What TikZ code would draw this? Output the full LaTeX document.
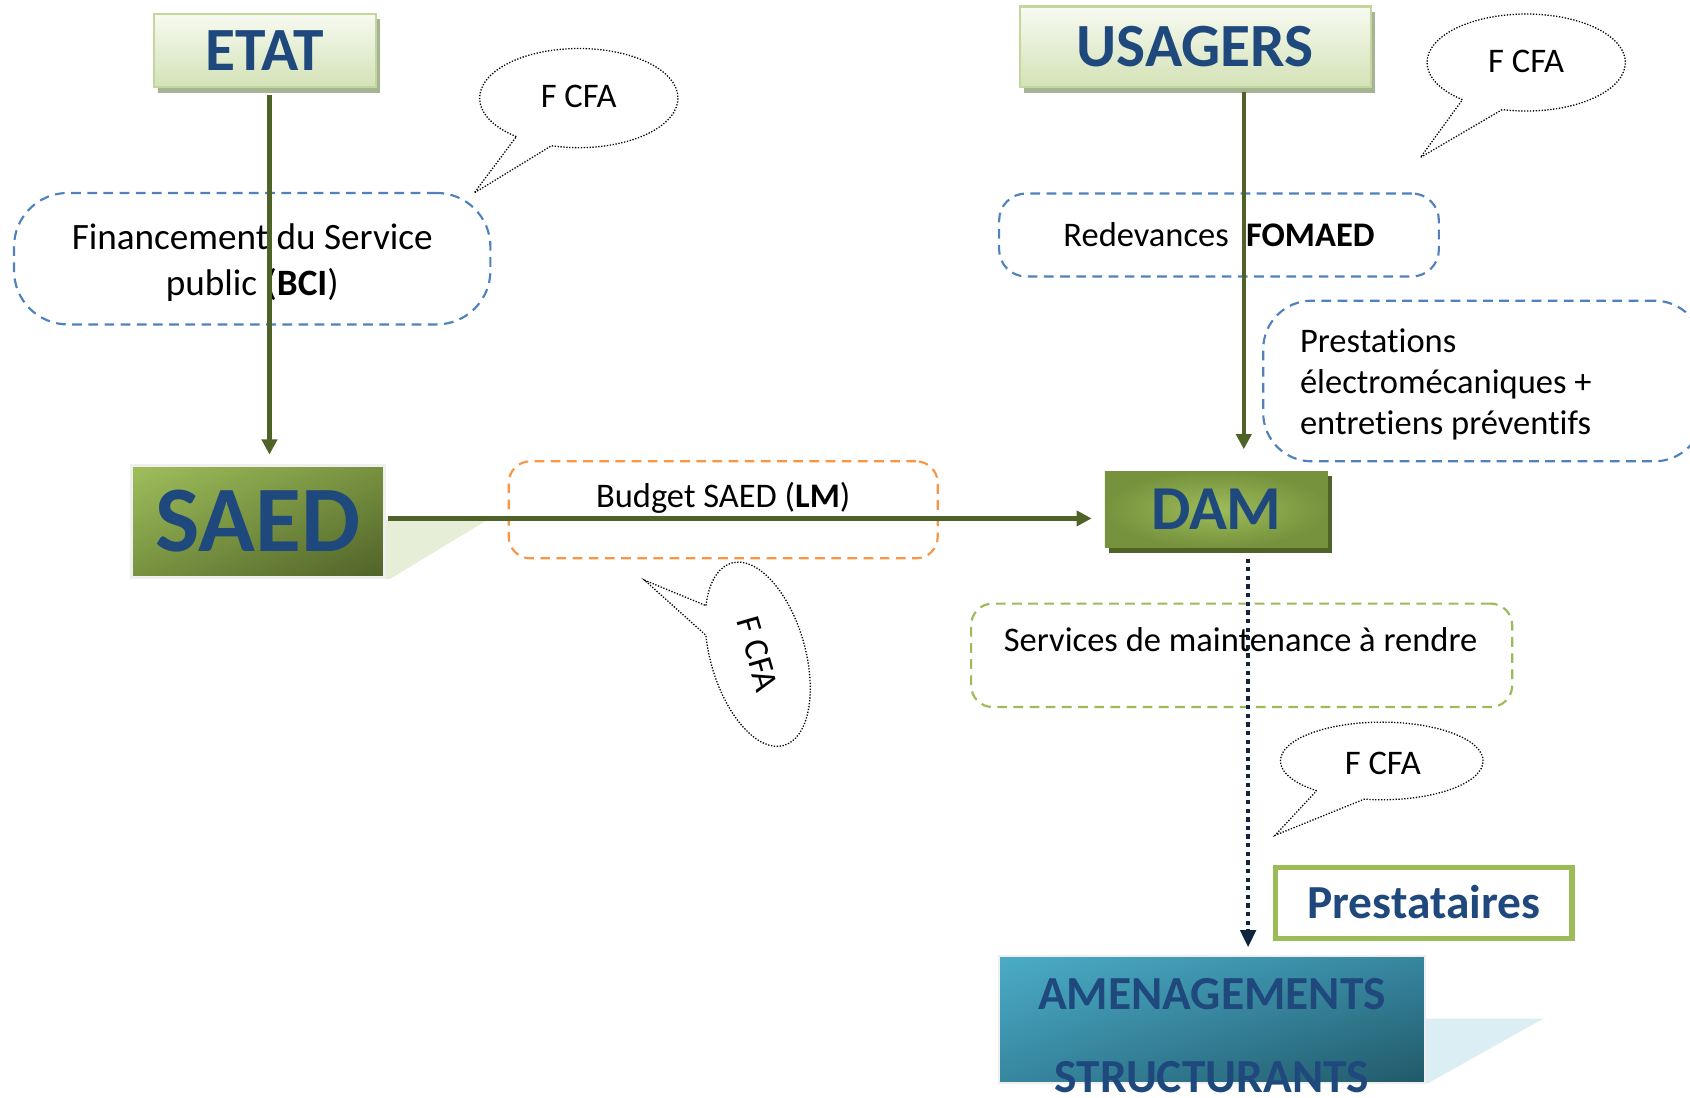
\documentclass[tikz,border=0pt]{standalone}
\usepackage{fontspec}
\setmainfont{Carlito}[Ligatures=NoCommon]
\usetikzlibrary{arrows.meta,shadows,calc,shadings}
\definecolor{tblue}{HTML}{1F497D}
\definecolor{olive}{HTML}{4F6228}
\definecolor{dblue}{HTML}{4F81BD}
\definecolor{dorange}{HTML}{F79646}
\definecolor{dgreen}{HTML}{9BBB59}
\definecolor{navy}{HTML}{0F243E}
\definecolor{etattop}{HTML}{F7FAF1}
\definecolor{etatbot}{HTML}{D3E2B6}
\definecolor{etatborder}{HTML}{C3D69B}
\definecolor{etatshadow}{HTML}{A6B394}
\definecolor{saedA}{HTML}{9FBF5C}
\definecolor{saedM}{HTML}{77913F}
\definecolor{saedB}{HTML}{4F6228}
\definecolor{damin}{HTML}{9DBC5A}
\definecolor{damout}{HTML}{76923C}
\definecolor{amenA}{HTML}{4BACC6}
\definecolor{amenM}{HTML}{3786A0}
\definecolor{amenB}{HTML}{215968}
\definecolor{lightborder}{HTML}{EFEFEF}
\definecolor{saedshadow}{HTML}{E6EED8}
\definecolor{amenshadow}{HTML}{DAEEF3}
\begin{document}
\begin{tikzpicture}[x=1pt,y=-1pt,
  bigtitle/.style={font=\bfseries\fontsize{57}{60}\selectfont, text=tblue, text height=36.7pt, text depth=0pt},
  topbox/.style={bigtitle, draw=etatborder, line width=2pt, top color=etattop, bottom color=etatbot,
     drop shadow={shadow xshift=4pt, shadow yshift=-5pt, fill=etatshadow, opacity=1}},
  dashbox/.style={dash pattern=on 9pt off 6pt, line width=2pt},
  lbl/.style={font=\fontsize{32}{38}\selectfont, text height=20.6pt, text depth=0pt, inner sep=0pt},
  callout/.style={draw=black, line width=1.2pt, dash pattern=on 1.2pt off 1.5pt, fill=white},
  arr/.style={draw=olive, line width=4pt, -{Triangle[width=14pt,length=14pt]}},
  dotarr/.style={draw=navy, line width=4pt, dash pattern=on 4pt off 4pt, -{Triangle[width=14pt,length=16pt]}}
]
\useasboundingbox (0,0) rectangle (1568,1018);

% dashed label boxes
\node[dashbox, draw=dblue, rounded corners=50pt, minimum width=442pt, minimum height=122pt] (fin) at (234,240) {};
\node[align=center, inner sep=0pt, font=\fontsize{34.5}{42}\selectfont] (fint) at (234,243.5)
      {Financement du Service\\public (\textbf{BCI})};
\node[dashbox, draw=dblue, rounded corners=25pt, minimum width=408pt, minimum height=77pt,
      font=\fontsize{32}{38}\selectfont, text height=20.6pt, text depth=0pt] (redev) at (1131,218)
      {Redevances\hspace{16pt}\textbf{FOMAED}};
\node[dashbox, draw=dblue, rounded corners=45pt, minimum width=408pt, minimum height=149pt] (prest) at (1376,353.5) {};
\node[anchor=west, align=left, inner sep=0pt, font=\fontsize{32}{38}\selectfont] (prestt) at (1206,356.5)
      {Prestations\\électromécaniques +\\entretiens préventifs};
\node[dashbox, draw=dorange, rounded corners=20pt, minimum width=398pt, minimum height=90pt] (budget) at (671,473) {};
\node[lbl] (budgett) at (671,461) {Budget SAED (\textbf{LM})};
\node[dashbox, draw=dgreen, rounded corners=20pt, minimum width=502pt, minimum height=96pt] (serv) at (1152,608) {};
\node[lbl] (servt) at (1151,594) {Services de maintenance à rendre};

% callouts
\coordinate (c1) at (537,91);
\draw[callout] (c1) ++(129:92 and 46) arc[start angle=129, end angle=466, x radius=92, y radius=46] -- (440,179) -- cycle;
\node[lbl] (cfa1) at (537,89) {F CFA};
\coordinate (c2) at (1416,58);
\draw[callout] (c2) ++(130:92 and 45) arc[start angle=130, end angle=464, x radius=92, y radius=45] -- (1318,146) -- cycle;
\node[lbl] (cfa2) at (1416,57) {F CFA};
\coordinate (c4) at (1282,706);
\draw[callout] (c4) ++(130:94 and 36) arc[start angle=130, end angle=460, x radius=94, y radius=36] -- (1183,775) -- cycle;
\node[lbl] (cfa4) at (1283,708) {F CFA};
\begin{scope}[shift={(703,607)}, rotate=-74]
  \draw[callout] (130:88 and 44) arc[start angle=130, end angle=470, x radius=88, y radius=44] -- (-95,82) -- cycle;
  \node[lbl, transform shape] (cfa3) at (0,0) {F CFA};
\end{scope}

% perspective shadows
\fill[saedshadow] (356,482) -- (453,482) -- (362,537) -- (356,537) -- cycle;
\fill[amenshadow] (1320,945) -- (1432,945) -- (1325,1005) -- (1320,1005) -- cycle;

% main boxes
\node[topbox, minimum width=206pt, minimum height=68pt] (etat) at (246,47) {ETAT};
\node[topbox, minimum width=326pt, minimum height=75pt] (usagers) at (1109,43.5) {USAGERS};
\node[draw=lightborder, line width=2.5pt, upper left=saedA, upper right=saedM, lower left=saedM, lower right=saedB,
      minimum width=235pt, minimum height=104pt, font=\bfseries\fontsize{87}{90}\selectfont, text=tblue,
      text height=56pt, text depth=0pt] (saed) at (239.5,484) {SAED};
\node[inner color=damin, outer color=damout, minimum width=207pt, minimum height=71pt,
      font=\bfseries\fontsize{58}{62}\selectfont, text=tblue, text height=37pt, text depth=0pt,
      drop shadow={shadow xshift=4pt, shadow yshift=-5pt, fill=olive, opacity=1}] (dam) at (1128.5,472.5) {DAM};
\node[draw=lightborder, line width=2pt, upper left=amenA, upper right=amenM, lower left=amenM, lower right=amenB,
      minimum width=395pt, minimum height=118pt] (amen) at (1124.5,946) {};
\node[font=\bfseries\fontsize{44}{77}\selectfont, text=tblue, align=center, inner sep=0pt] (ament) at (1124.5,960.4)
      {AMENAGEMENTS\\STRUCTURANTS};
\node[draw=dgreen, line width=5pt, fill=white, minimum width=275pt, minimum height=66pt,
      font=\bfseries\fontsize{44}{48}\selectfont, text=tblue, text height=28.3pt, text depth=0pt] (presta) at (1321,838) {Prestataires};

% connectors
\draw[arr] ($(etat.south)+(4,6)$) -- ($(etat.south |- saed.north)+(4,-9)$);
\draw[arr] ($(usagers.south)+(45,3)$) -- ($(usagers.south |- dam.north)+(45,-20)$);
\draw[arr] ($(saed.east)+(2,-3)$) -- ($(saed.east -| dam.west)+(-12,-3)$);
\draw[dotarr] ($(dam.south)+(29.5,10)$) -- ($(dam.south |- amen.north)+(29.5,-7)$);
\end{tikzpicture}
\end{document}
